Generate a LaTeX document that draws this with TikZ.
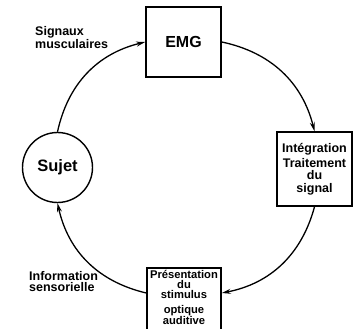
\documentclass[tikz,border=0pt]{standalone}
\usepackage{fontspec}
\setmainfont{Liberation Sans}
\usepackage{tikz}
\usetikzlibrary{arrows.meta}
\usetikzlibrary{positioning}

\begin{document}
\begin{tikzpicture}[x = 1pt, y = -1pt,
		bloc/.style = {draw, line width = 1.6pt, inner sep = 0pt},
		etiq/.style = {font = \bfseries\fontsize{12.5}{11}\selectfont, align = left, inner sep = 0pt},
		fleche/.style = {-{Stealth[length = 9pt, width = 5pt]}, line width = 1.3pt, bend left = 32}]
			\useasboundingbox (0, 0) rectangle (360, 329);
			%\draw[help lines, step = 20] (0, 0) grid (360, 329);
			\node[bloc, minimum width = 75, minimum height = 70, font = \bfseries\fontsize{16}{16}\selectfont] (emg) at (183.5, 42) {EMG};
			\node[bloc, minimum width = 75, minimum height = 74, align = center, font = \bfseries\fontsize{12.5}{12.5}\selectfont] (integ) at (314.5, 169) {Intégration\\[2pt]Traitement\\du\\signal};
			\node[bloc, minimum width = 74, minimum height = 68, anchor = north] (pres) at (184, 267) {};
			\node[align = center, inner sep = 0pt, font = \bfseries\fontsize{11.2}{10}\selectfont, below = 3pt of pres.north] (prestxt) {Présentation\\du\\stimulus\\[5pt]optique\\auditive};
			\node[circle, bloc, line width = 1.4pt, minimum size = 70, font = \bfseries\fontsize{16.5}{16.5}\selectfont] (sujet) at (57.5, 167.5) {Sujet};
			
			\node[etiq, anchor = west] (signaux) at (35, 37.5) {Signaux\\musculaires};
			\node[etiq, anchor = west] (info) at (29, 282) {Information\\sensorielle};
			
			\draw[fleche] (sujet.north) to (emg.west);
			\draw[fleche] (emg.east) to (integ.north);
			\draw[fleche] (integ.south) to ([yshift = -26pt]pres.north east);
			\draw[fleche] ([yshift = -26pt]pres.north west) to (sujet.south);
		\end{tikzpicture}
\end{document}
